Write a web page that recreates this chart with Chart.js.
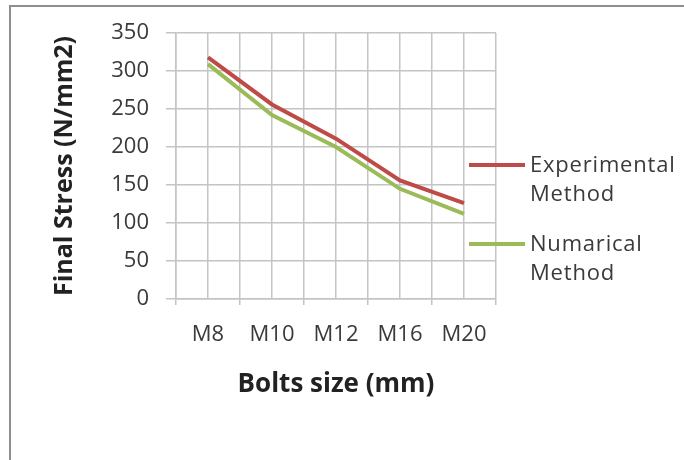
<!DOCTYPE html>
<html>
<head>
<meta charset="utf-8">
<script src="https://cdn.jsdelivr.net/npm/chart.js@4/dist/chart.umd.min.js"></script>
<style>
  body { margin: 0; background: #fff; }
  .wrap { position: relative; width: 684px; height: 460px; overflow: hidden; }
  .frame { position: absolute; left: 9px; top: 5px; width: 720px; height: 520px; border: 2px solid #8f8f8f; }
  #stressChart { position: absolute; left: 0; top: 0; }
</style>
</head>
<body>
<div class="wrap">
  <div class="frame"></div>
  <canvas id="stressChart" width="684" height="460"></canvas>
</div>
<script>
  const boltSizes = ["M8", "M10", "M12", "M16", "M20"];
  const experimental = [318, 256, 211, 156, 126];
  const numerical = [309, 242, 200, 145, 112];
  const seriesNames = [["Experimental", "Method"], ["Numarical", "Method"]];
  const yTicks = [0, 50, 100, 150, 200, 250, 300, 350];

  const gridColor = "#c4c4c4";
  const textColor = "#3a3a3a";
  const fontFamily = "'Open Sans', sans-serif";

  // legend drawn by hand so the names can wrap onto two lines like the original
  const sideLegend = {
    id: "sideLegend",
    afterDraw(chart) {
      const ctx = chart.ctx;
      const area = chart.chartArea;
      ctx.save();
      ctx.font = "22px " + fontFamily;
      ctx.letterSpacing = "0.8px";
      ctx.textBaseline = "middle";
      ctx.textAlign = "left";
      chart.data.datasets.forEach((ds, i) => {
        const y = area.top + 132 + i * 79;
        ctx.strokeStyle = ds.borderColor;
        ctx.lineWidth = 4;
        ctx.beginPath();
        ctx.moveTo(area.right - 27, y);
        ctx.lineTo(area.right + 29, y);
        ctx.stroke();
        ctx.fillStyle = textColor;
        seriesNames[i].forEach((line, j) => {
          ctx.fillText(line, area.right + 34, y + 1 + j * 29);
        });
      });
      ctx.restore();
    },
  };

  const ctx = document.getElementById("stressChart").getContext("2d");
  const myChart = new Chart(ctx, {
    type: "line",
    data: {
      labels: boltSizes,
      datasets: [
        {
          label: seriesNames[0].join(" "),
          data: experimental,
          borderColor: "#be4b48",
          borderWidth: 4,
          pointRadius: 0,
          tension: 0,
        },
        {
          label: seriesNames[1].join(" "),
          data: numerical,
          borderColor: "#9bbb59",
          borderWidth: 4,
          pointRadius: 0,
          tension: 0,
        },
      ],
    },
    options: {
      responsive: false,
      animation: false,
      layout: { padding: { left: 0, top: 33, right: 188, bottom: 0 } },
      plugins: {
        legend: { display: false },
        tooltip: { enabled: false },
      },
      scales: {
        x: {
          type: "category",
          offset: true,
          grid: { offset: true, color: gridColor, tickLength: 6, lineWidth: 1.5 },
          border: { color: gridColor, width: 1.5 },
          ticks: {
            color: textColor,
            font: { family: fontFamily, size: 22 },
            padding: 17,
            maxRotation: 0,
          },
          title: {
            display: true,
            text: "Bolts size (mm)",
            color: "#222",
            font: { family: fontFamily, size: 26, weight: "bold" },
            padding: { top: 0, bottom: 60 },
          },
          afterFit(scale) {
            scale.height = 161;
          },
        },
        xMid: {
          type: "category",
          position: "top",
          offset: true,
          grid: { offset: false, color: gridColor, drawTicks: false, lineWidth: 1.5 },
          border: { display: false },
          ticks: { display: false },
          afterFit(scale) {
            scale.height = 0;
          },
        },
        y: {
          min: 0,
          max: 350,
          afterBuildTicks(scale) {
            scale.ticks = yTicks.map((v) => ({ value: v }));
          },
          grid: { color: gridColor, tickLength: 10, lineWidth: 1.5 },
          border: { color: gridColor, width: 1.5 },
          ticks: {
            color: textColor,
            font: { family: fontFamily, size: 22 },
            padding: 17,
          },
          title: {
            display: true,
            text: "Final Stress (N/mm2)",
            color: "#222",
            font: { family: fontFamily, size: 25, weight: "bold" },
            padding: { top: 50, bottom: 0 },
          },
          afterFit(scale) {
            scale.width = 176;
          },
        },
      },
    },
    plugins: [sideLegend],
  });
</script>
</body>
</html>
